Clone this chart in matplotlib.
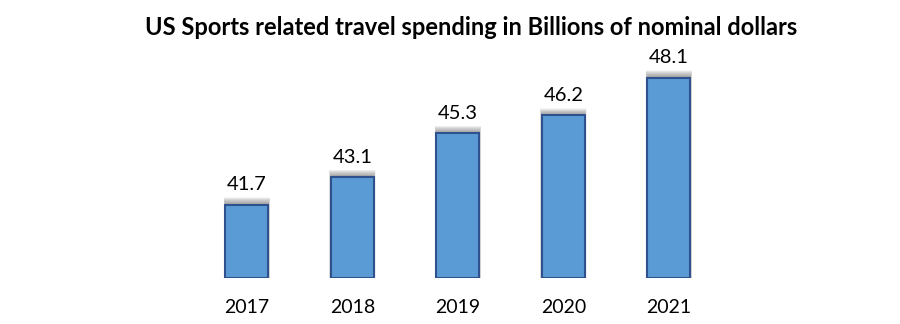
import matplotlib
matplotlib.use("Agg")
import matplotlib.pyplot as plt
from matplotlib.patches import Rectangle

years = ["2017", "2018", "2019", "2020", "2021"]
values = [41.7, 43.1, 45.3, 46.2, 48.1]
title = "US Sports related travel spending in Billions of nominal dollars"

fig = plt.figure(figsize=(9, 3.24), dpi=100)
ax = fig.add_axes([0.2156, 0.142, 0.5861, 0.735])
ymin, ymax = 38, 50
ax.set_ylim(ymin, ymax)
ax.set_xlim(-0.5, len(years) - 0.5)

width = 0.41
# soft shadow (layered)
for i, v in enumerate(values):
    for k in range(14):
        grow = 0.0012 * k
        ax.add_patch(Rectangle((i - width / 2 - grow, ymin), width + 2 * grow,
                               (v - ymin) + 0.04 + 0.025 * k,
                               facecolor="#6a6a6a", edgecolor="none",
                               alpha=0.06, zorder=1))

bars = ax.bar(range(len(years)), [v - ymin for v in values], bottom=ymin,
              width=width, color="#5B9BD5", edgecolor="#2F528F",
              linewidth=1.5, zorder=3)

for i, v in enumerate(values):
    ax.annotate(f"{v}", (i, v), xytext=(0, 8), textcoords="offset points",
                ha="center", va="bottom", fontsize=14.5, family="Lato",
                color="#000000")

ax.set_xticks(range(len(years)))
ax.set_xticklabels(years, fontsize=14, family="Lato")
ax.tick_params(axis="x", length=0, pad=15)
ax.set_yticks([])
for s in ax.spines.values():
    s.set_visible(False)

fig.text(0.523, 0.915, title, ha="center", va="center", fontsize=17,
         fontweight="bold", family="Lato")

fig.savefig("out.png", dpi=100)
